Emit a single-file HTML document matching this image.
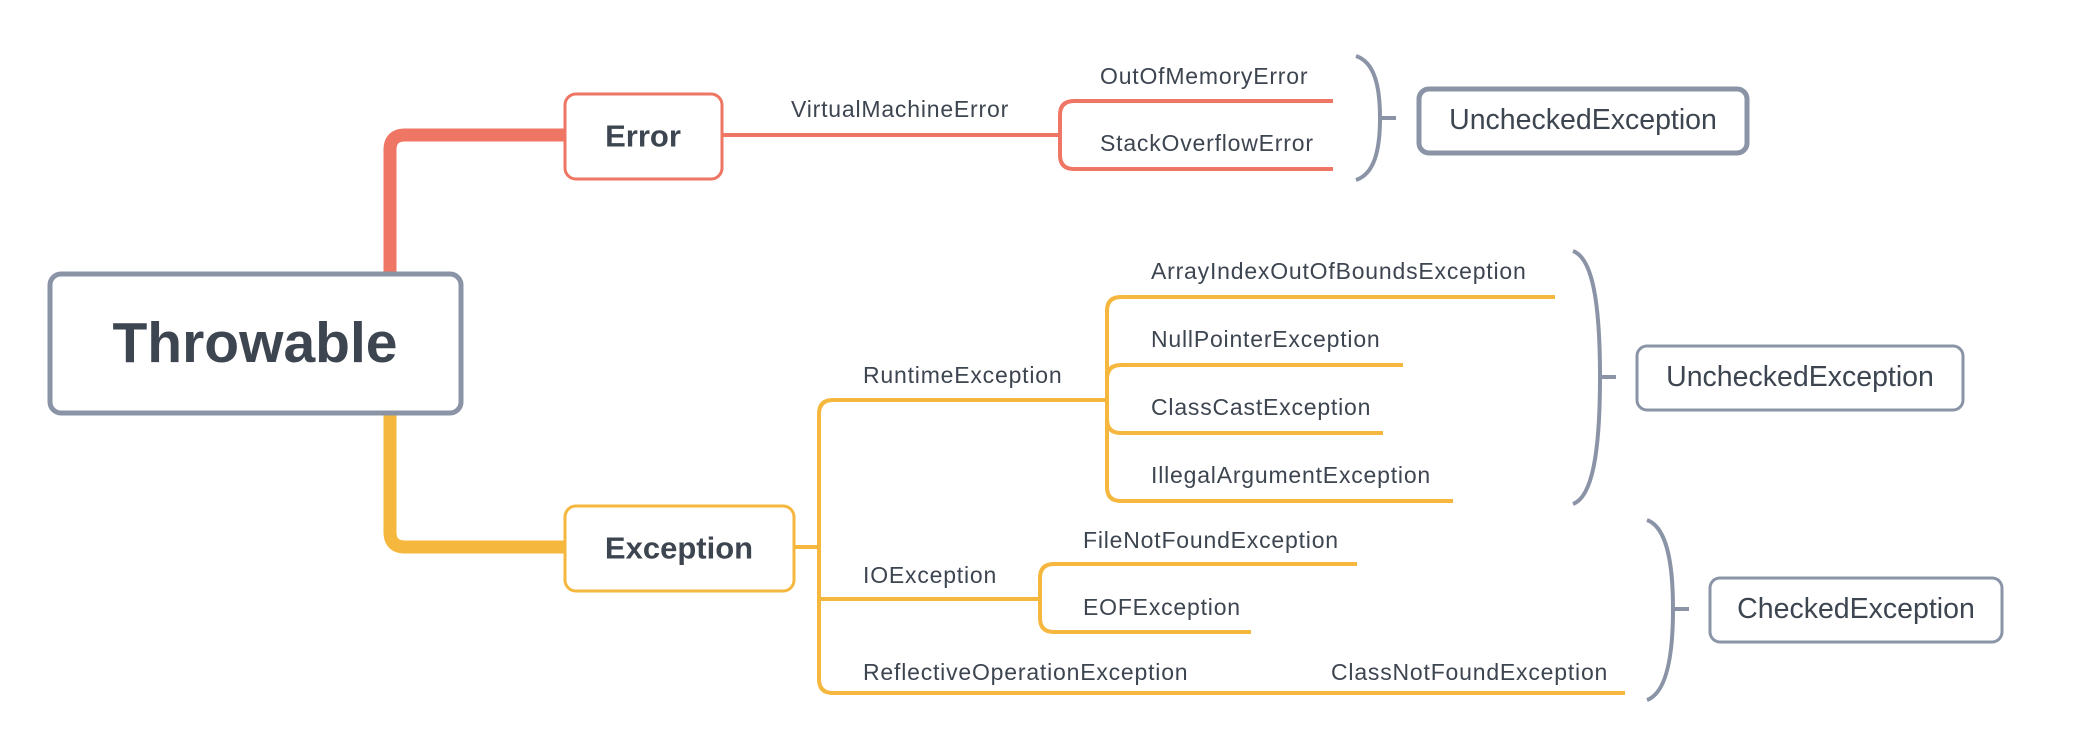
<!DOCTYPE html>
<html><head><style>body{margin:0;background:#fff}svg{display:block}</style></head>
<body>
<svg width="2090" height="756" viewBox="0 0 2090 756" xmlns="http://www.w3.org/2000/svg" font-family="'Liberation Sans', sans-serif">
<g fill="none" stroke-linecap="butt">
<path d="M390 272 V150 Q390 135 405 135 H564" stroke="#ef7564" stroke-width="13"/>
<path d="M723 135 H1060" stroke="#ef7564" stroke-width="4"/>
<path d="M1333 101 H1074 Q1060 101 1060 115 V155 Q1060 169 1074 169 H1333" stroke="#ef7564" stroke-width="4"/>
<path d="M390 415 V532 Q390 547 405 547 H564" stroke="#f5b73d" stroke-width="13"/>
<path d="M795 547 H819" stroke="#f5b73d" stroke-width="4"/>
<path d="M1107 400 H833 Q819 400 819 414 V679 Q819 693 833 693 H1625" stroke="#f5b73d" stroke-width="4"/>
<path d="M819 599 H1040" stroke="#f5b73d" stroke-width="4"/>
<path d="M1555 297 H1121 Q1107 297 1107 311 V487 Q1107 501 1121 501 H1453" stroke="#f5b73d" stroke-width="4"/>
<path d="M1403 365 H1121 Q1107 365 1107 379 V419 Q1107 433 1121 433 H1383" stroke="#f5b73d" stroke-width="4"/>
<path d="M1357 564 H1054 Q1040 564 1040 578 V618 Q1040 632 1054 632 H1251" stroke="#f5b73d" stroke-width="4"/>
<g stroke="#8a94a6" stroke-width="4">
<path d="M1356 56 C1374 62 1380 85 1380 118 C1380 151 1374 174 1356 180 M1380 118 H1396"/>
<path d="M1573 251 C1592 258 1600 300 1600 377 C1600 454 1592 497 1573 504 M1600 377 H1616"/>
<path d="M1647 520 C1666 527 1673 560 1673 609 C1673 658 1666 693 1647 700 M1673 609 H1689"/>
</g>
</g>
<rect x="50" y="274" width="411" height="139" rx="11" fill="#fff" stroke="#8a94a6" stroke-width="5"/>
<rect x="565" y="94" width="157" height="85" rx="11" fill="#fff" stroke="#ef7564" stroke-width="3"/>
<rect x="565" y="506" width="229" height="85" rx="11" fill="#fff" stroke="#f5b73d" stroke-width="3"/>
<rect x="1419" y="89" width="328" height="64" rx="10" fill="#fff" stroke="#8a94a6" stroke-width="5"/>
<rect x="1637" y="346" width="326" height="64" rx="10" fill="#fff" stroke="#8a94a6" stroke-width="3"/>
<rect x="1710" y="578" width="292" height="64" rx="10" fill="#fff" stroke="#8a94a6" stroke-width="3"/>
<g fill="#3d4550" dominant-baseline="central">
<text x="255" y="343" font-size="57" font-weight="bold" text-anchor="middle">Throwable</text>
<text x="643" y="136" font-size="31" font-weight="bold" text-anchor="middle">Error</text>
<text x="679" y="548" font-size="31" font-weight="bold" text-anchor="middle">Exception</text>
<text x="1583" y="120" font-size="28.5" text-anchor="middle">UncheckedException</text>
<text x="1800" y="377" font-size="28.5" text-anchor="middle">UncheckedException</text>
<text x="1856" y="609" font-size="28.5" text-anchor="middle">CheckedException</text>
<g font-size="23" letter-spacing="0.8">
<text x="791" y="109">VirtualMachineError</text>
<text x="1100" y="76">OutOfMemoryError</text>
<text x="1100" y="143">StackOverflowError</text>
<text x="863" y="375">RuntimeException</text>
<text x="863" y="575">IOException</text>
<text x="863" y="672">ReflectiveOperationException</text>
<text x="1331" y="672">ClassNotFoundException</text>
<text x="1151" y="271">ArrayIndexOutOfBoundsException</text>
<text x="1151" y="339">NullPointerException</text>
<text x="1151" y="407">ClassCastException</text>
<text x="1151" y="475">IllegalArgumentException</text>
<text x="1083" y="540">FileNotFoundException</text>
<text x="1083" y="607">EOFException</text>
</g>
</g>
</svg>
</body></html>
